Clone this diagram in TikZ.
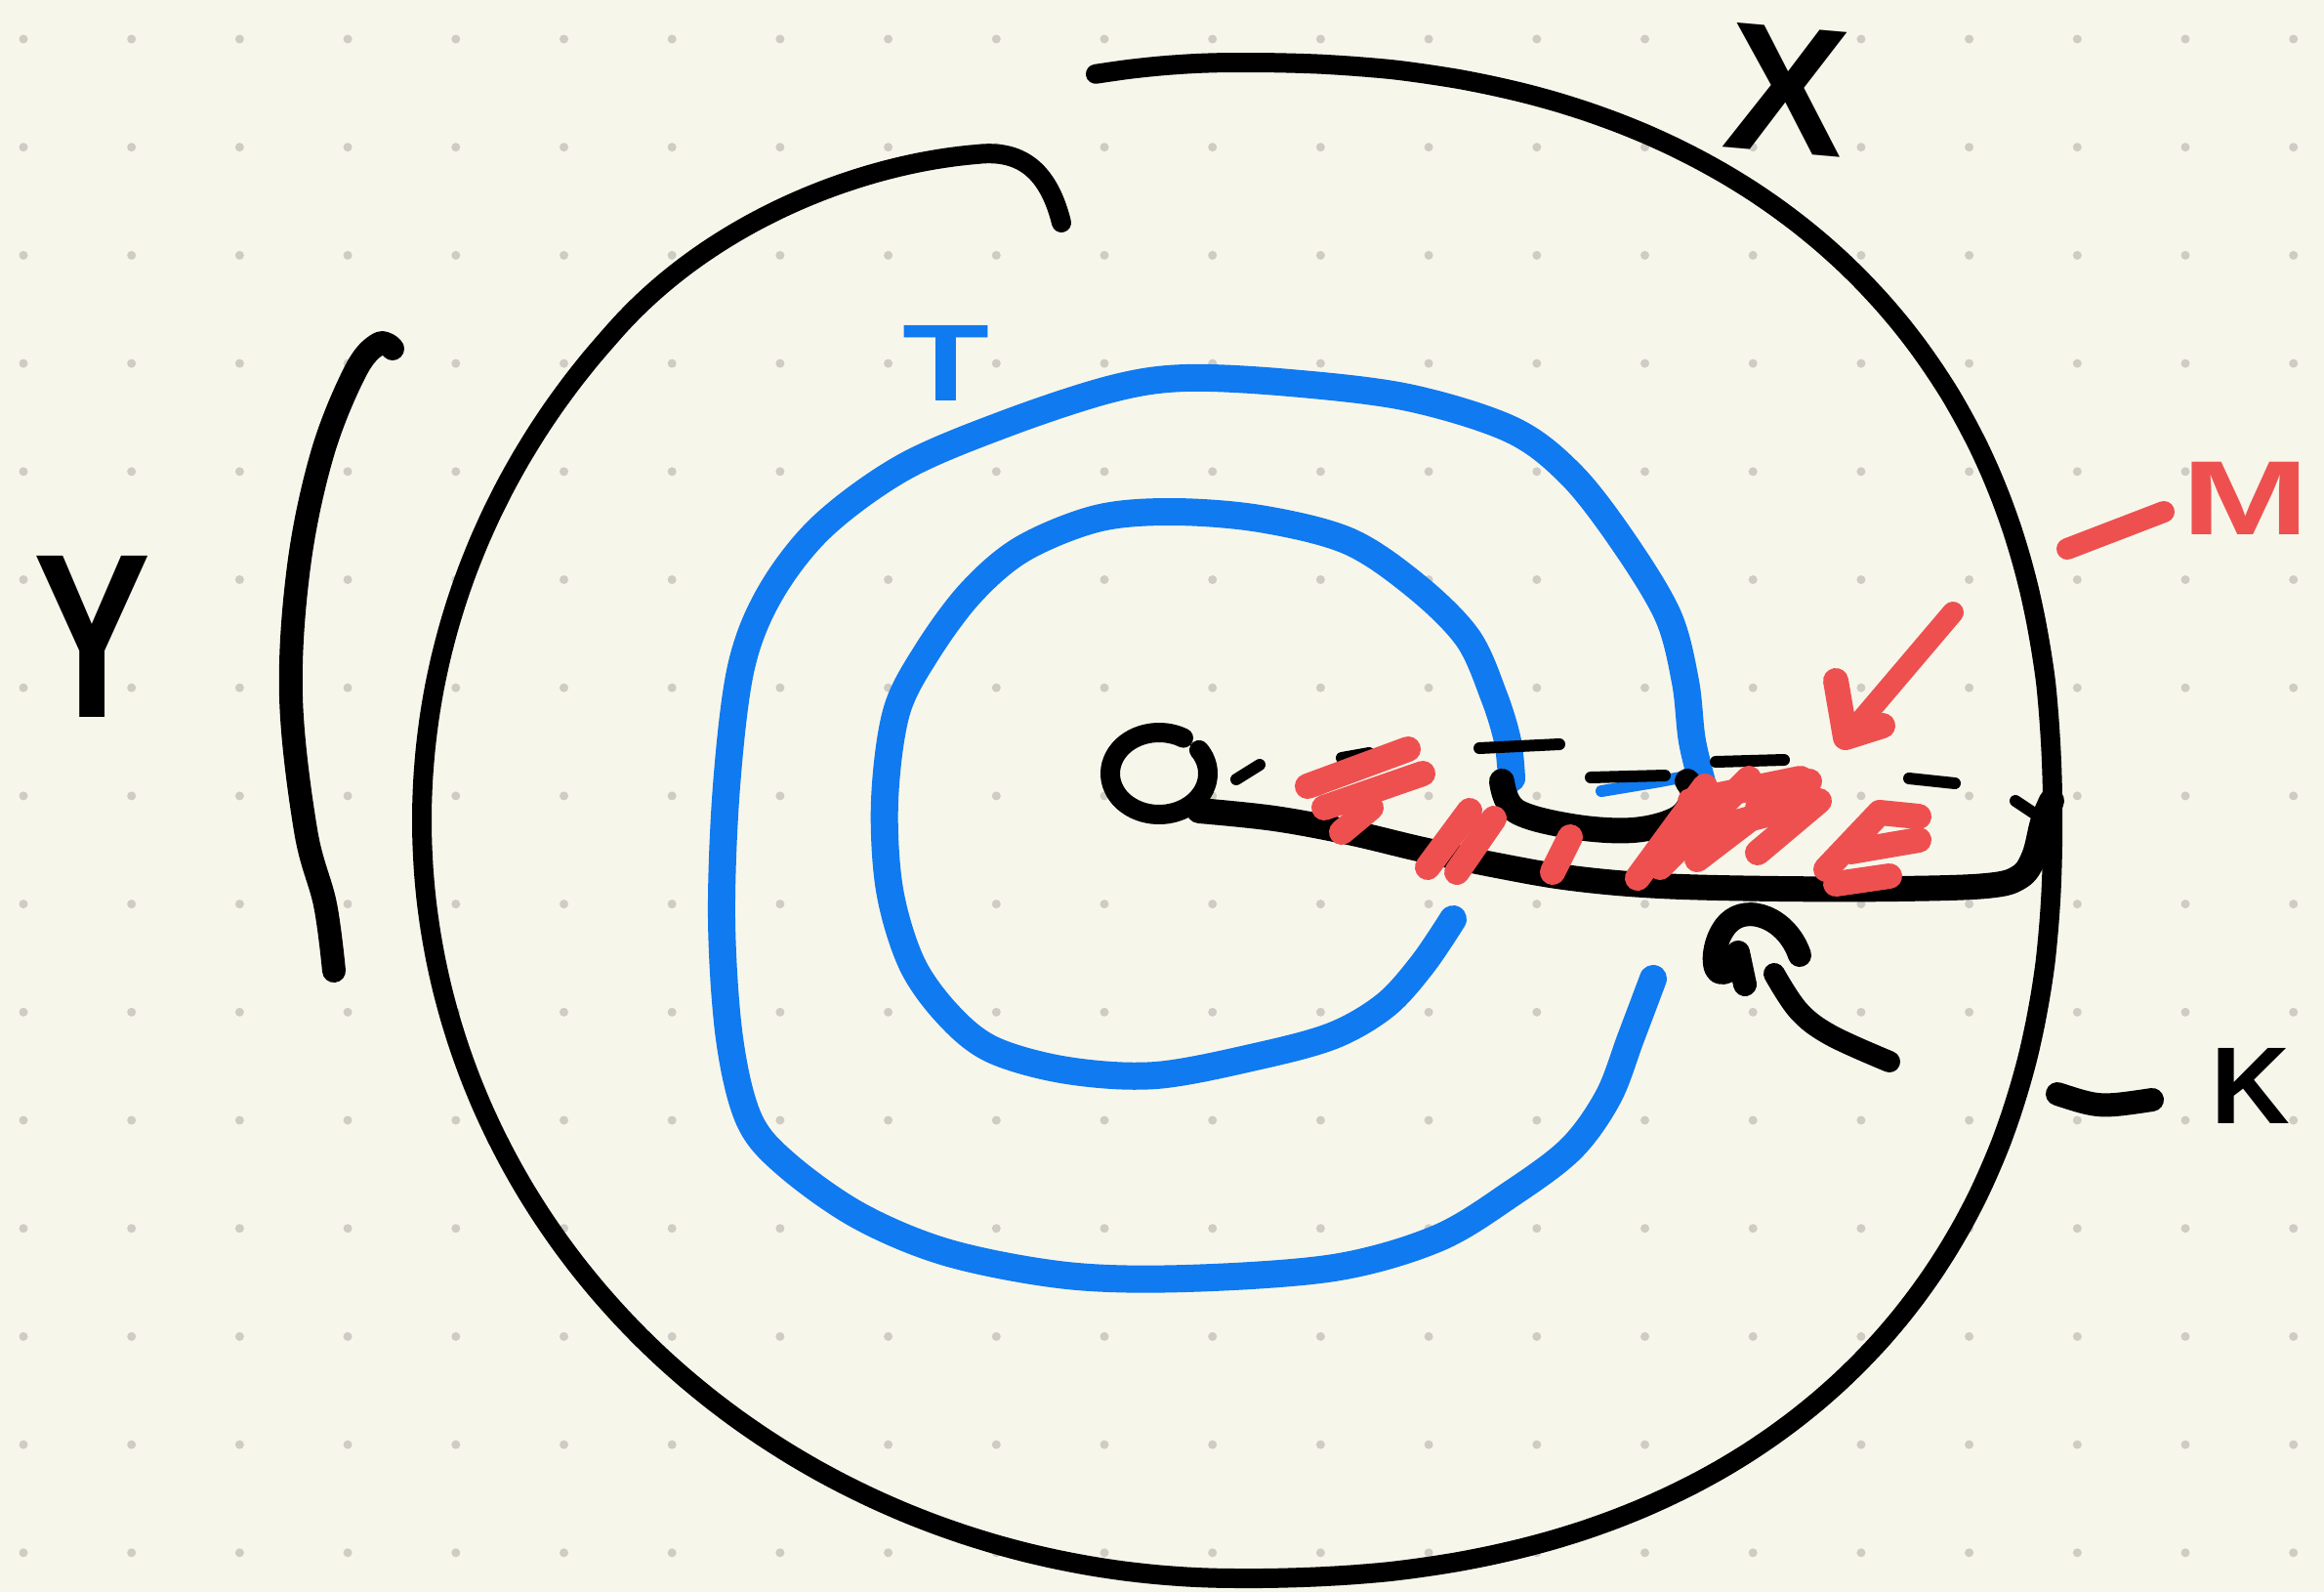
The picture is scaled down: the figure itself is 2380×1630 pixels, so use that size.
\documentclass[tikz,border=0pt]{standalone}
\usepackage{fontspec}
\setmainfont{Liberation Sans}
\definecolor{paper}{RGB}{247,246,235}
\definecolor{dotc}{RGB}{206,204,196}
\definecolor{pen}{RGB}{0,0,0}
\definecolor{bluepen}{RGB}{16,122,240}
\definecolor{redpen}{RGB}{238,80,80}
\tikzset{
  declare function={sp(\t,\p)=sign(\t)*(abs(\t)+0.00001)^(\p);},
  ink/.style={draw=pen, line width=20pt, line cap=round, line join=round},
  thickink/.style={draw=pen, line width=26pt, line cap=round, line join=round},
  thinink/.style={draw=pen, line width=12pt, line cap=round, line join=round},
  blueink/.style={draw=bluepen, line width=28pt, line cap=round, line join=round},
  thinblue/.style={draw=bluepen, line width=12pt, line cap=round, line join=round},
  redink/.style={draw=redpen, line width=22pt, line cap=round, line join=round},
  hatch/.style={draw=redpen, line width=26pt, line cap=round, line join=round},
  lbl/.style={inner sep=0pt, font=\bfseries},
}
\begin{document}
\begin{tikzpicture}[x=1pt,y=-1pt]
\useasboundingbox (0,0) rectangle (2380,1630);
\fill[paper] (0,0) rectangle (2380,1630);
% dot grid
\foreach \i in {0,...,21}{
  \foreach \j in {0,...,14}{
    \fill[dotc] ({24+110.7*\i},{40+110.7*\j}) circle[radius=4.5pt];
  }
}
% outer black circle (open near the top, spiralling in at the end)
\draw[ink] plot[domain=0:320, samples=140, smooth]
  ({1267+835*sp(cos(100-\x),1-0.13*(cos(100-\x)>0))},
   {840-776*sp(sin(100-\x),1-0.13*(cos(100-\x)>0))})
  .. controls (727,227) and (880,168) .. (1000,158)
  .. controls (1050,152) and (1075,180) .. (1087,228);
% bracket on the left
\draw[thickink, line width=24pt] plot[smooth, tension=0.6] coordinates {
 (402,357) (388,352) (364,380) (330,465) (306,580) (298,713) (313,850) (333,926) (342,994)};
% blue outer arc
\draw[blueink] plot[smooth, tension=0.55] coordinates {
 (1693,1002) (1670,1063) (1647,1123) (1609,1176) (1548,1222) (1472,1268)
 (1366,1298) (1214,1309) (1093,1306) (972,1283) (880,1245) (805,1192)
 (767,1146) (747,1063) (739,941) (744,805) (759,683) (789,607) (842,539)
 (926,478) (1032,433) (1139,398) (1214,387) (1321,392) (1442,407) (1548,440)
 (1609,486) (1662,554) (1708,630) (1726,698) (1733,759) (1746,812)};
% blue inner arc
\draw[blueink] plot[smooth, tension=0.55] coordinates {
 (1488,941) (1457,987) (1419,1029) (1366,1060) (1290,1081) (1184,1101)
 (1093,1096) (1017,1075) (972,1040) (934,987) (911,911) (906,820) (918,729)
 (949,668) (994,607) (1047,562) (1123,531) (1199,524) (1290,531) (1381,554)
 (1450,600) (1503,653) (1530,713) (1544,759) (1548,797)};
\draw[thinblue] (1640,810) -- (1700,800) -- (1742,792);
% small O at the centre
\draw[ink] (1187,792) ++(60:50pt and 42pt) arc[start angle=60, end angle=395, x radius=50pt, y radius=42pt];
\draw[thinink] (1266,798) -- (1290,783);
% slit lower edge
\draw[thickink] plot[smooth, tension=0.6] coordinates {
 (1228,830) (1305,838) (1381,852) (1457,870) (1533,886) (1609,899) (1700,907)
 (1822,910) (1943,910) (2034,907) (2068,898) (2083,877) (2092,842) (2101,820)};
\draw[thinink] (2064,820) -- (2094,840);
% dashed upper edge
\draw[thinink] (1374,776) -- (1402,771);
\draw[thinink] (1515,766) -- (1597,762);
\draw[thinink] (1629,796) -- (1705,794);
\draw[thinink] (1757,780) -- (1827,778);
\draw[thinink] (1955,797) -- (2002,802);
% black U
\draw[thickink] plot[smooth, tension=0.6] coordinates {
 (1538,800) (1552,830) (1609,846) (1672,850) (1718,838) (1734,815) (1728,800)};
% hook below the slit
\draw[thickink, line width=24pt] (1843,978) .. controls (1830,940) and (1790,925) .. (1770,945)
  .. controls (1755,960) and (1752,990) .. (1760,995)
  .. controls (1770,1000) and (1778,985) .. (1780,975) -- (1787,1008);
\draw[thickink, line width=22pt] plot[smooth, tension=0.6] coordinates {
 (1817,997) (1842,1035) (1875,1060) (1935,1087)};
% red hatching
\draw[hatch] (1339,805) -- (1442,767);
\draw[hatch] (1356,827) -- (1457,792);
\draw[hatch] (1374,852) -- (1404,827);
\draw[hatch] (1462,888) -- (1505,830);
\draw[hatch] (1492,893) -- (1530,838);
\draw[hatch] (1590,893) -- (1608,857);
\draw[hatch] (1677,899) -- (1746,805);
\draw[hatch] (1700,888) -- (1791,797);
\draw[hatch] (1738,880) -- (1840,802);
\draw[hatch] (1731,820) -- (1844,797);
\draw[hatch] (1746,850) -- (1837,827);
\draw[hatch] (1800,873) -- (1863,820);
\draw[hatch] (1800,827) -- (1853,800);
\draw[hatch] (1870,890) -- (1925,832) -- (1965,836);
\draw[hatch] (1895,872) -- (1965,860);
\draw[hatch] (1880,905) -- (1935,897);
% red arrow
\draw[redink] (2000,627) -- (1893,753);
\draw[redink, line width=26pt] (1880,697) -- (1890,755) -- (1928,743);
% pointer dashes
\draw[redink] (2117,562) -- (2216,524);
\draw[ink, line width=24pt] (2107,1120) .. controls (2150,1134) .. (2204,1126);
% labels
\node[lbl, text=pen, rotate=-5] (labX) at (1830,92) {\fontsize{186}{186}\selectfont X};
\node[lbl, text=bluepen, xscale=1.3] (labT) at (969,372) {\fontsize{112}{112}\selectfont T};
\node[lbl, text=pen, xscale=0.75] (labY) at (95,652) {\fontsize{240}{240}\selectfont Y};
\node[lbl, text=redpen, xscale=1.45] (labM) at (2300,510) {\fontsize{108}{108}\selectfont M};
\node[lbl, text=pen] (labK) at (2305,1112) {\fontsize{112}{112}\selectfont K};
\end{tikzpicture}
\end{document}
